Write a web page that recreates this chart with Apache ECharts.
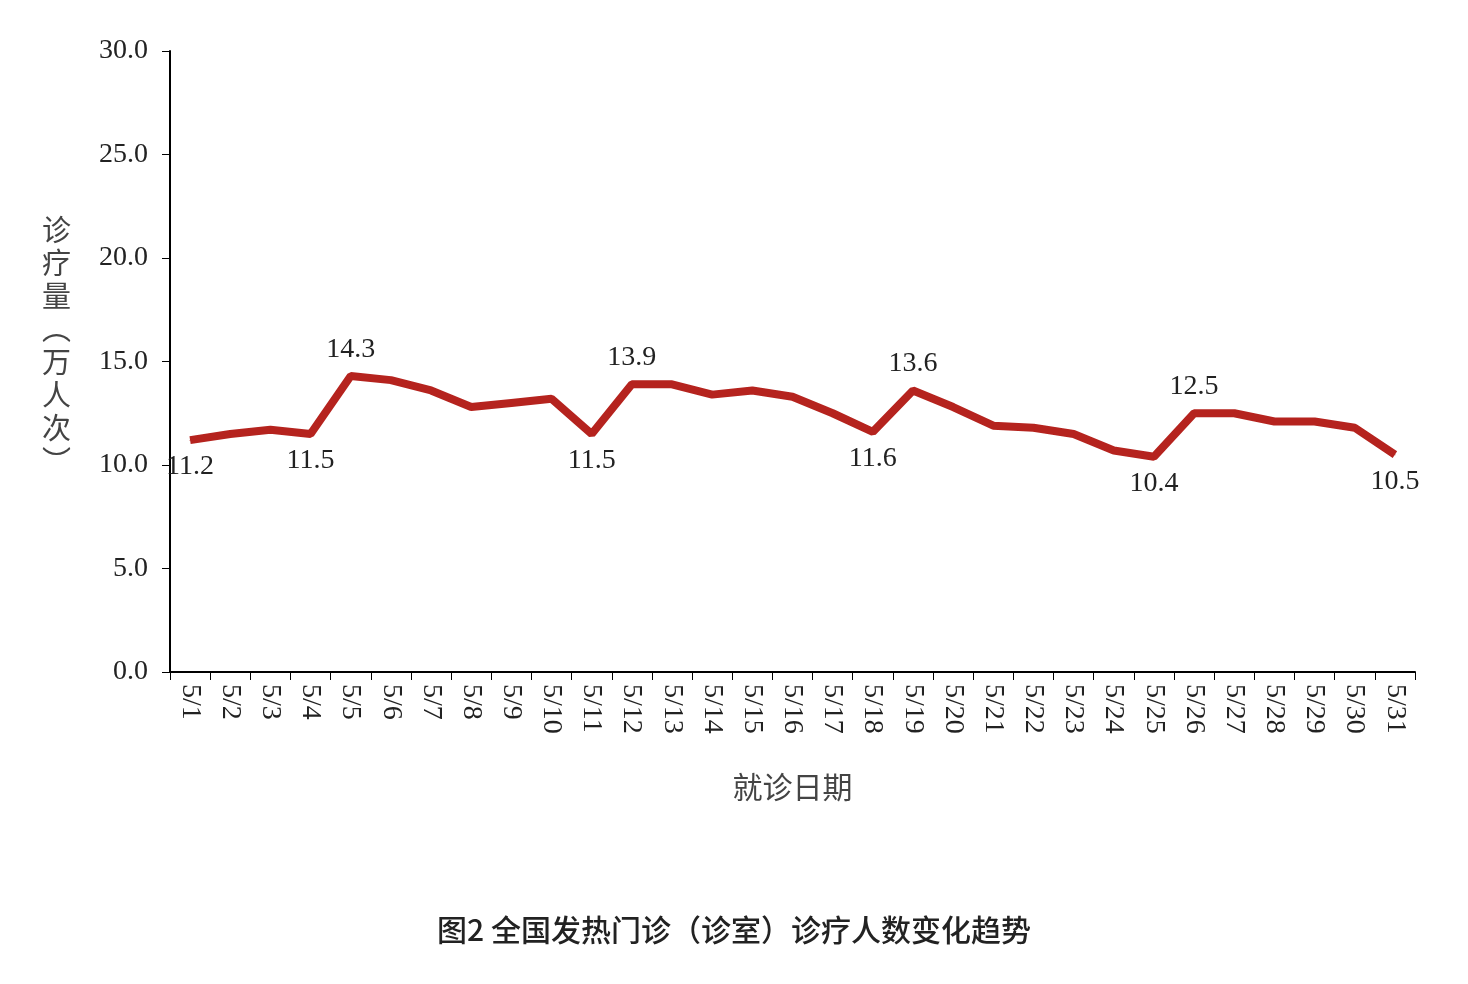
<!DOCTYPE html><html><head><meta charset="utf-8">
<script src="https://cdn.jsdelivr.net/npm/echarts@6/dist/echarts.min.js"></script>
<style>body{margin:0;background:#fff}#c{width:1468px;height:984px}</style></head><body><div id="c"></div>
<script>
const categories=['5/1','5/2','5/3','5/4','5/5','5/6','5/7','5/8','5/9','5/10','5/11','5/12','5/13','5/14','5/15','5/16','5/17','5/18','5/19','5/20','5/21','5/22','5/23','5/24','5/25','5/26','5/27','5/28','5/29','5/30','5/31'];
const values=[11.2,11.5,11.7,11.5,14.3,14.1,13.6,12.8,13.0,13.2,11.5,13.9,13.9,13.4,13.6,13.3,12.5,11.6,13.6,12.8,11.9,11.8,11.5,10.7,10.4,12.5,12.5,12.1,12.1,11.8,10.5];
const labelsAbove=[4,11,18,25];
const labelsBelow=[0,3,10,17,24,30];
const serif='"Liberation Serif","Noto Serif CJK SC","Noto Sans CJK SC",serif';
const data=values.map((v,i)=>{
  const o={value:v};
  if(labelsAbove.includes(i))o.label={show:true,position:'top',distance:12};
  else if(labelsBelow.includes(i))o.label={show:true,position:'bottom',distance:12};
  return o;});
const ch=echarts.init(document.getElementById('c'));
ch.setOption({
  animation:false,
  grid:{left:170,right:53,top:51,bottom:312},
  title:{text:'图2 全国发热门诊（诊室）诊疗人数变化趋势',left:'center',top:910,textStyle:{fontFamily:'"Noto Sans CJK SC"',fontSize:30,fontWeight:'500',color:'#222'}},
  graphic:[{type:'text',left:42,top:213,style:{text:'诊\n疗\n量\n︵\n万\n人\n次\n︶',fontFamily:'"Noto Sans CJK SC"',fontSize:29,lineHeight:33,fill:'#444'}}],
  xAxis:{type:'category',data:categories,boundaryGap:true,name:'就诊日期',nameLocation:'middle',nameGap:100,
    nameTextStyle:{fontFamily:'"Noto Sans CJK SC"',fontSize:30,color:'#444'},
    axisLine:{lineStyle:{color:'#000',width:2}},axisTick:{show:true,length:8,lineStyle:{color:'#000'}},
    axisLabel:{rotate:-90,fontFamily:serif,fontSize:28,color:'#222',margin:12,interval:0}},
  yAxis:{type:'value',min:0,max:30,interval:5,
    axisLine:{show:true,lineStyle:{color:'#000',width:2}},axisTick:{show:true,length:8,lineStyle:{color:'#000'}},
    splitLine:{show:false},
    axisLabel:{formatter:v=>v.toFixed(1),fontFamily:serif,fontSize:28,color:'#222',margin:22}},
  series:[{type:'line',data:data,symbol:'circle',symbolSize:1,showSymbol:true,itemStyle:{color:'#b5231e'},lineStyle:{color:'#b5231e',width:8},
    label:{fontFamily:serif,fontSize:28,color:'#222',formatter:p=>p.value.toFixed(1)}}]
});
</script></body></html>
